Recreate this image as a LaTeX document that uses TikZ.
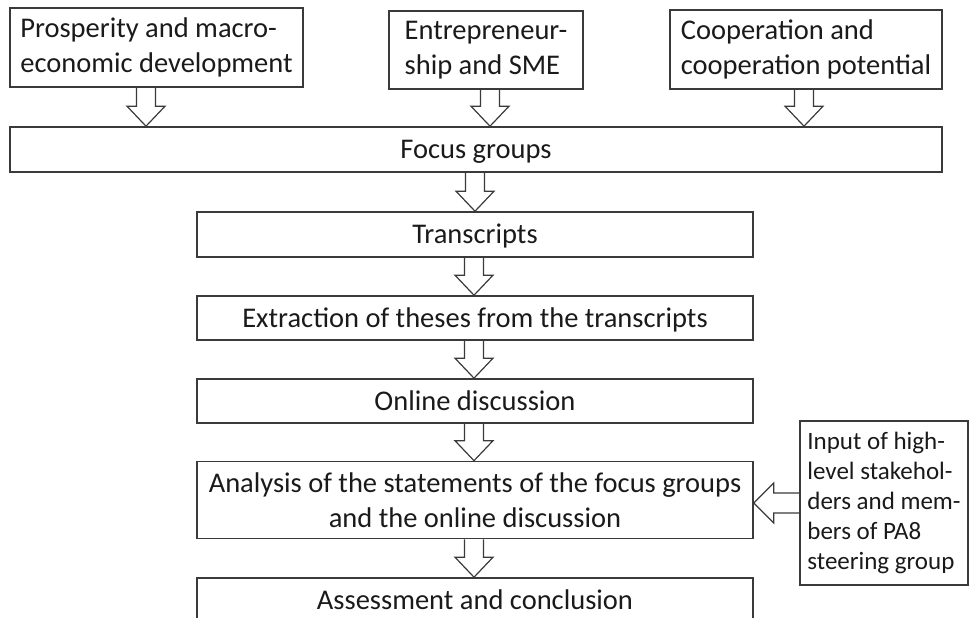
\documentclass[tikz,border=0pt]{standalone}
\usepackage{fontspec}
\setmainfont{Carlito}
\usetikzlibrary{calc}
\definecolor{linec}{HTML}{3A3A3A}
\definecolor{textc}{HTML}{1A1A1A}
\tikzset{
  box/.style={draw=linec, line width=1.6pt, rectangle, inner sep=0pt, text=textc,
    font=\fontsize{28.5}{35}\selectfont, align=center},
  leftbox/.style={box, align=left},
  smallbox/.style={leftbox, font=\fontsize{25}{30}\selectfont},
  one/.style={text height=18.4pt, text depth=0pt},
  blockarr/.style={draw=linec, line width=1.2pt, line join=miter},
}
\newcommand\downblk[3]{%
  \path[blockarr] let \p1=($(#2.south)+(#1,0)$), \p2=($(#3.north)+(#1,0)$) in
  (\x1-9.5pt,\y1) -- (\x1-9.5pt,\y2+20pt) -- (\x1-19pt,\y2+20pt) -- (\x1,\y2)
  -- (\x1+19pt,\y2+20pt) -- (\x1+9.5pt,\y2+20pt) -- (\x1+9.5pt,\y1);}
\newcommand\leftblk[2]{%
  \path[blockarr] let \p1=(#1.west), \p2=(#2.east) in
  (\x1,\y1+10pt) -- (\x2+20pt,\y1+10pt) -- (\x2+20pt,\y1+20pt) -- (\x2,\y1)
  -- (\x2+20pt,\y1-20pt) -- (\x2+20pt,\y1-10pt) -- (\x1,\y1-10pt);}
\begin{document}
\begin{tikzpicture}[x=1pt,y=-1pt]
\useasboundingbox (0,0) rectangle (970,618);
\clip (0,0) rectangle (970,618);
% top boxes
\node[leftbox, minimum width=293pt, minimum height=79pt] (prosp) at (156.5,47.5)
  {Prosperity and macro-\\economic development};
\node[leftbox, minimum width=194pt, minimum height=78pt] (entre) at (486,50)
  {Entrepreneur-\\ship and SME};
\node[leftbox, minimum width=272pt, minimum height=79pt] (coop) at (806,49.5)
  {Cooperation and\\cooperation potential};
% main column
\node[box, one, minimum width=932pt, minimum height=45pt] (focus) at (476,149.5) {Focus groups};
\node[box, one, minimum width=556pt, minimum height=45pt] (trans) at (475,234.5) {Transcripts};
\node[box, one, minimum width=556pt, minimum height=44pt] (extr) at (475,318) {Extraction of theses from the transcripts};
\node[box, one, minimum width=556pt, minimum height=44pt] (online) at (475,401) {Online discussion};
\node[box, minimum width=556pt, minimum height=77pt] (anal) at (475,500)
  {Analysis of the statements of the focus groups\\and the online discussion};
\node[box, one, minimum width=556pt, minimum height=45pt] (assess) at (475,600.5) {Assessment and conclusion};
% side box
\node[smallbox, minimum width=168pt, minimum height=164pt] (input) at (884,503)
  {Input of high-\\level stakehol-\\ders and mem-\\bers of PA8\\steering group};
% arrows
\downblk{-10.5}{prosp}{focus}
\downblk{4}{entre}{focus}
\downblk{-2}{coop}{focus}
\downblk{-1}{focus}{trans}
\downblk{-1}{trans}{extr}
\downblk{-1}{extr}{online}
\downblk{-1}{online}{anal}
\downblk{-1}{anal}{assess}
\leftblk{input}{anal}
\end{tikzpicture}
\end{document}
